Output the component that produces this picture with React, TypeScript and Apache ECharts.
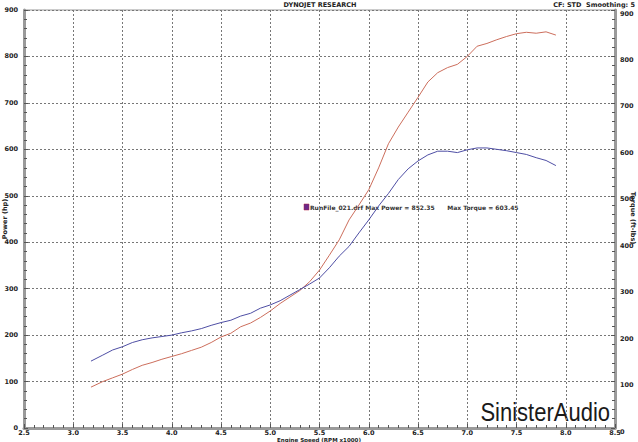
import React, { useEffect, useRef } from "react";
import * as echarts from "echarts";

const rpm = [3.18, 3.3, 3.4, 3.5, 3.6, 3.7, 3.8, 3.9, 4.0, 4.1, 4.2, 4.3, 4.4, 4.5, 4.6, 4.7, 4.8, 4.9, 5.0, 5.1, 5.2, 5.3, 5.4, 5.5, 5.6, 5.7, 5.8, 5.9, 6.0, 6.1, 6.2, 6.3, 6.4, 6.5, 6.6, 6.7, 6.8, 6.9, 7.0, 7.1, 7.2, 7.3, 7.4, 7.5, 7.6, 7.7, 7.8, 7.9];
const power = [88, 100, 108, 116, 126, 135, 141, 148, 154, 160, 167, 174, 184, 196, 204, 218, 226, 238, 252, 268, 282, 296, 315, 340, 372, 405, 448, 480, 513, 560, 612, 648, 680, 712, 745, 765, 776, 783, 800, 822, 828, 836, 843, 849, 852, 850, 853, 846];
const torque = [144, 157, 168, 175, 184, 190, 194, 197, 200, 205, 209, 214, 221, 227, 232, 241, 247, 258, 265, 274, 286, 298, 310, 323, 345, 370, 391, 420, 448, 478, 505, 535, 558, 575, 588, 596, 596, 593, 599, 603, 603, 600, 597, 593, 589, 582, 576, 565];

const title = "DYNOJET RESEARCH";
const corner = "CF: STD  Smoothing: 5";
const legendText = "RunFile_021.drf Max Power = 852.35      Max Torque = 603.45";
const xName = "Engine Speed (RPM x1000)";
const leftName = "Power (hp)";
const rightName = "Torque (ft-lbs)";
const watermark = "SinisterAudio";

const FONT = "DejaVu Sans";

export default function App() {
  const ref = useRef<HTMLDivElement>(null);
  useEffect(() => {
    if (!ref.current) return;
    const chart = echarts.init(ref.current, null, { renderer: "svg" });
    const labelStyle = { fontFamily: FONT, fontSize: 6.5, fontWeight: "bold" as const, color: "#222" };
    const yCommon = {
      type: "value" as const,
      min: 0,
      max: 900,
      interval: 100,
      minorTick: { show: true, splitNumber: 5, length: 3, lineStyle: { color: "#555" } },
      axisTick: { show: true, length: 4, inside: true, lineStyle: { color: "#555" } },
    };
    chart.setOption({
      animation: false,
      backgroundColor: "#fff",
      grid: { left: 24, right: 23, top: 10, bottom: 14, show: true, borderColor: "#999", borderWidth: 1 },
      xAxis: {
        type: "value",
        min: 2.5,
        max: 8.5,
        interval: 0.5,
        axisLine: { show: true, lineStyle: { color: "#9a9a9a", width: 3 } },
        axisTick: { show: true, length: 4, inside: true, lineStyle: { color: "#555" } },
        minorTick: { show: true, splitNumber: 5, length: 3, lineStyle: { color: "#555" } },
        axisLabel: { ...labelStyle, margin: 1.5, formatter: (v: number) => v.toFixed(1) },
        splitLine: { show: true, lineStyle: { color: "#777", type: [2, 2], width: 1 } },
      },
      yAxis: [
        {
          ...yCommon,
          position: "left",
          axisLine: { show: true, lineStyle: { color: "#9a9a9a", width: 3 } },
          axisLabel: { ...labelStyle, margin: 6 },
          splitLine: { show: true, lineStyle: { color: "#777", type: [2, 2], width: 1 } },
        },
        {
          ...yCommon,
          position: "right",
          axisLine: { show: true, lineStyle: { color: "#9a9a9a", width: 3 } },
          axisLabel: { ...labelStyle, margin: 5, verticalAlign: "top" },
          splitLine: { show: false },
        },
      ],
      series: [
        {
          type: "line",
          name: "Power",
          yAxisIndex: 0,
          data: rpm.map((r, i) => [r, power[i]]),
          showSymbol: false,
          lineStyle: { color: "#cc6e5c", width: 1 },
          smooth: false,
        },
        {
          type: "line",
          name: "Torque",
          yAxisIndex: 1,
          data: rpm.map((r, i) => [r, torque[i]]),
          showSymbol: false,
          lineStyle: { color: "#4e4ea4", width: 1 },
          smooth: false,
        },
      ],
      graphic: [
        { type: "text", x: 320, y: 1, style: { text: title, font: `bold 6.5px ${FONT}`, fill: "#222", align: "center" } },
        { type: "text", x: 635, y: 1, style: { text: corner, font: `bold 6.5px ${FONT}`, fill: "#222", align: "right" } },
        { type: "text", x: 319, y: 436.5, style: { text: xName, font: `bold 5.5px ${FONT}`, fill: "#222", align: "center" } },
        { type: "text", x: 5, y: 219, rotation: Math.PI / 2, style: { text: leftName, font: `bold 6.5px ${FONT}`, fill: "#222", align: "center", verticalAlign: "middle" } },
        { type: "text", x: 633, y: 218, rotation: -Math.PI / 2, style: { text: rightName, font: `bold 6.5px ${FONT}`, fill: "#222", align: "center", verticalAlign: "middle" } },
        { type: "rect", shape: { x: 304, y: 204, width: 5, height: 6 }, style: { fill: "#6a2a8a", stroke: "#b02040", lineWidth: 0.5 } },
        { type: "text", x: 310, y: 204, style: { text: legendText, font: `bold 6px ${FONT}`, fill: "#333" } },
        { type: "text", x: 610, y: 425, scaleX: 0.88, style: { text: watermark, font: `25px "Liberation Sans"`, fill: "#1a1a1a", align: "right", verticalAlign: "bottom" } },
      ],
    });
    return () => chart.dispose();
  }, []);
  return <div ref={ref} style={{ width: 638, height: 442, position: "absolute", left: 0, top: 0 }} />;
}
